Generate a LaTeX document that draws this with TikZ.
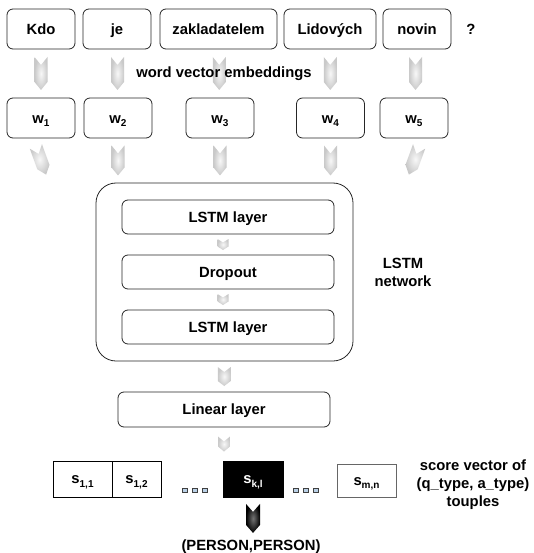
\documentclass[tikz,border=0pt]{standalone}
\usepackage{fontspec}
\setmainfont{Liberation Sans}
\usetikzlibrary{calc}
\definecolor{dotblue}{RGB}{185,208,230}
\newcommand{\mysub}[1]{\raisebox{-3.5pt}{\fontsize{10}{10}\selectfont #1}}
\tikzset{
 lbl/.style={font=\fontsize{14.8}{18}\selectfont\bfseries, inner sep=0pt},
 box/.style={lbl, draw=black!85, line width=0.8pt, rounded corners=6pt, text height=10.6pt, text depth=0pt},
 wbox/.style={box, minimum width=68pt, minimum height=40pt},
 layer/.style={box, minimum width=212pt, minimum height=34pt},
 cell/.style={lbl, draw=black, line width=0.7pt, minimum height=36pt, text height=9pt, text depth=0pt},
 chevgray/.style={shade, inner color=gray!6, outer color=gray!42},
 chevdark/.style={shade, inner color=black!55, outer color=black},
 dotsq/.style={draw=black!75, fill=dotblue, line width=0.6pt, minimum width=5pt, minimum height=4pt, inner sep=0pt},
 pics/chev/.style args={#1/#2/#3/#4}{code={\path[#4] (-#1/2,-#2/2) -- (0,-#2/2+#3) -- (#1/2,-#2/2) -- (#1/2,#2/2-#3) -- (0,#2/2) -- (-#1/2,#2/2-#3) -- cycle;}}
}
\begin{document}
\begin{tikzpicture}[x=1pt,y=-1pt]
\useasboundingbox (0,0) rectangle (533,553);
% top words
\node[wbox] (kdo) at (41,29) {Kdo};
\node[wbox] (je) at (117,29) {je};
\node[box, minimum width=117pt, minimum height=40pt] (zak) at (218.5,29) {zakladatelem};
\node[box, minimum width=92pt, minimum height=40pt] (lid) at (330,29) {Lidových};
\node[wbox] (nov) at (417,29) {novin};
\node[lbl, text height=10.6pt, text depth=0pt] (q) at (471,29) {?};
% w vectors
\node[wbox] (w1) at (41,118) {w\mysub{1}};
\node[wbox] (w2) at (118,118) {w\mysub{2}};
\node[wbox] (w3) at (220,118) {w\mysub{3}};
\node[wbox] (w4) at (330.5,118) {w\mysub{4}};
\node[wbox] (w5) at (414,118) {w\mysub{5}};
% arrows words -> vectors
\pic at ($(kdo.south)!0.5!(w1.north)$) {chev=13/33/8/chevgray};
\pic at ($(je.south)!0.5!(w2.north)$) {chev=13/33/8/chevgray};
\pic at ($(zak.south)!0.5!(w3.north)$) {chev=13/33/8/chevgray};
\pic at ($(lid.south)!0.5!(w4.north)$) {chev=13/33/8/chevgray};
\pic at ($(nov.south)!0.5!(w5.north)$) {chev=13/33/8/chevgray};
\node[lbl, text height=10.6pt, text depth=0pt] (wve) at (224,72.5) {word vector embeddings};
% LSTM network
\node[draw=black!85, line width=0.8pt, rounded corners=20pt, minimum width=257pt, minimum height=178pt, inner sep=0pt] (net) at (224.5,272) {};
\node[layer] (l1) at (228,217) {LSTM layer};
\node[layer] (drop) at (228,272) {Dropout};
\node[layer] (l2) at (228,327) {LSTM layer};
\node[lbl, align=center] (netlbl) at (403,272) {LSTM\\network};
% arrows vectors -> network
\pic[rotate=20] at ($(w1.south)!0.5!(w1.south |- net.north)$) {chev=13/30/8/chevgray};
\pic at ($(w2.south)!0.5!(w2.south |- net.north)$) {chev=13/30/8/chevgray};
\pic at ($(w3.south)!0.5!(w3.south |- net.north)$) {chev=13/30/8/chevgray};
\pic at ($(w4.south)!0.5!(w4.south |- net.north)$) {chev=13/30/8/chevgray};
\pic[rotate=-20] at ($(w5.south)!0.5!(w5.south |- net.north)$) {chev=13/30/8/chevgray};
% inner arrows
\pic at ($(l1.south)!0.5!(drop.north)+(-5,0)$) {chev=11/11/3.5/chevgray};
\pic at ($(drop.south)!0.5!(l2.north)+(-5,0)$) {chev=11/11/3.5/chevgray};
% linear layer
\node[box, minimum width=212pt, minimum height=35pt] (lin) at (224,409.5) {Linear layer};
\pic at ($(net.south)!0.5!(lin.north)$) {chev=13/19/5/chevgray};
% score vector
\node[cell, minimum width=59pt] (s11) at (82.5,479) {s\mysub{1,1}};
\node[cell, minimum width=49pt] (s12) at (136.5,479) {s\mysub{1,2}};
\node[cell, minimum width=60pt, fill=black, text=white] (skl) at (253,479) {s\mysub{k,l}};
\node[cell, draw=black!60, minimum width=59pt, minimum height=33pt] (smn) at (366.5,480.5) {s\mysub{m,n}};
\node[dotsq] (d1) at (184.5,490) {};
\node[dotsq] (d2) at (194.5,490) {};
\node[dotsq] (d3) at (204.5,490) {};
\node[dotsq] (d4) at (295.5,490) {};
\node[dotsq] (d5) at (305.5,490) {};
\node[dotsq] (d6) at (315.5,490) {};
\pic at ($(lin.south)!0.5!(lin.south |- skl.north)$) {chev=12/15/5/chevgray};
\node[lbl, align=center] (score) at (473,484.5) {score vector of\\(q\_type, a\_type)\\touples};
% result
\node[lbl, text height=10.6pt, text depth=0pt] (res) at (251,545) {(PERSON,PERSON)};
\pic at ($(skl.south)!0.5!(skl.south |- res.north)$) {chev=14/29/8/chevdark};
\end{tikzpicture}
\end{document}
